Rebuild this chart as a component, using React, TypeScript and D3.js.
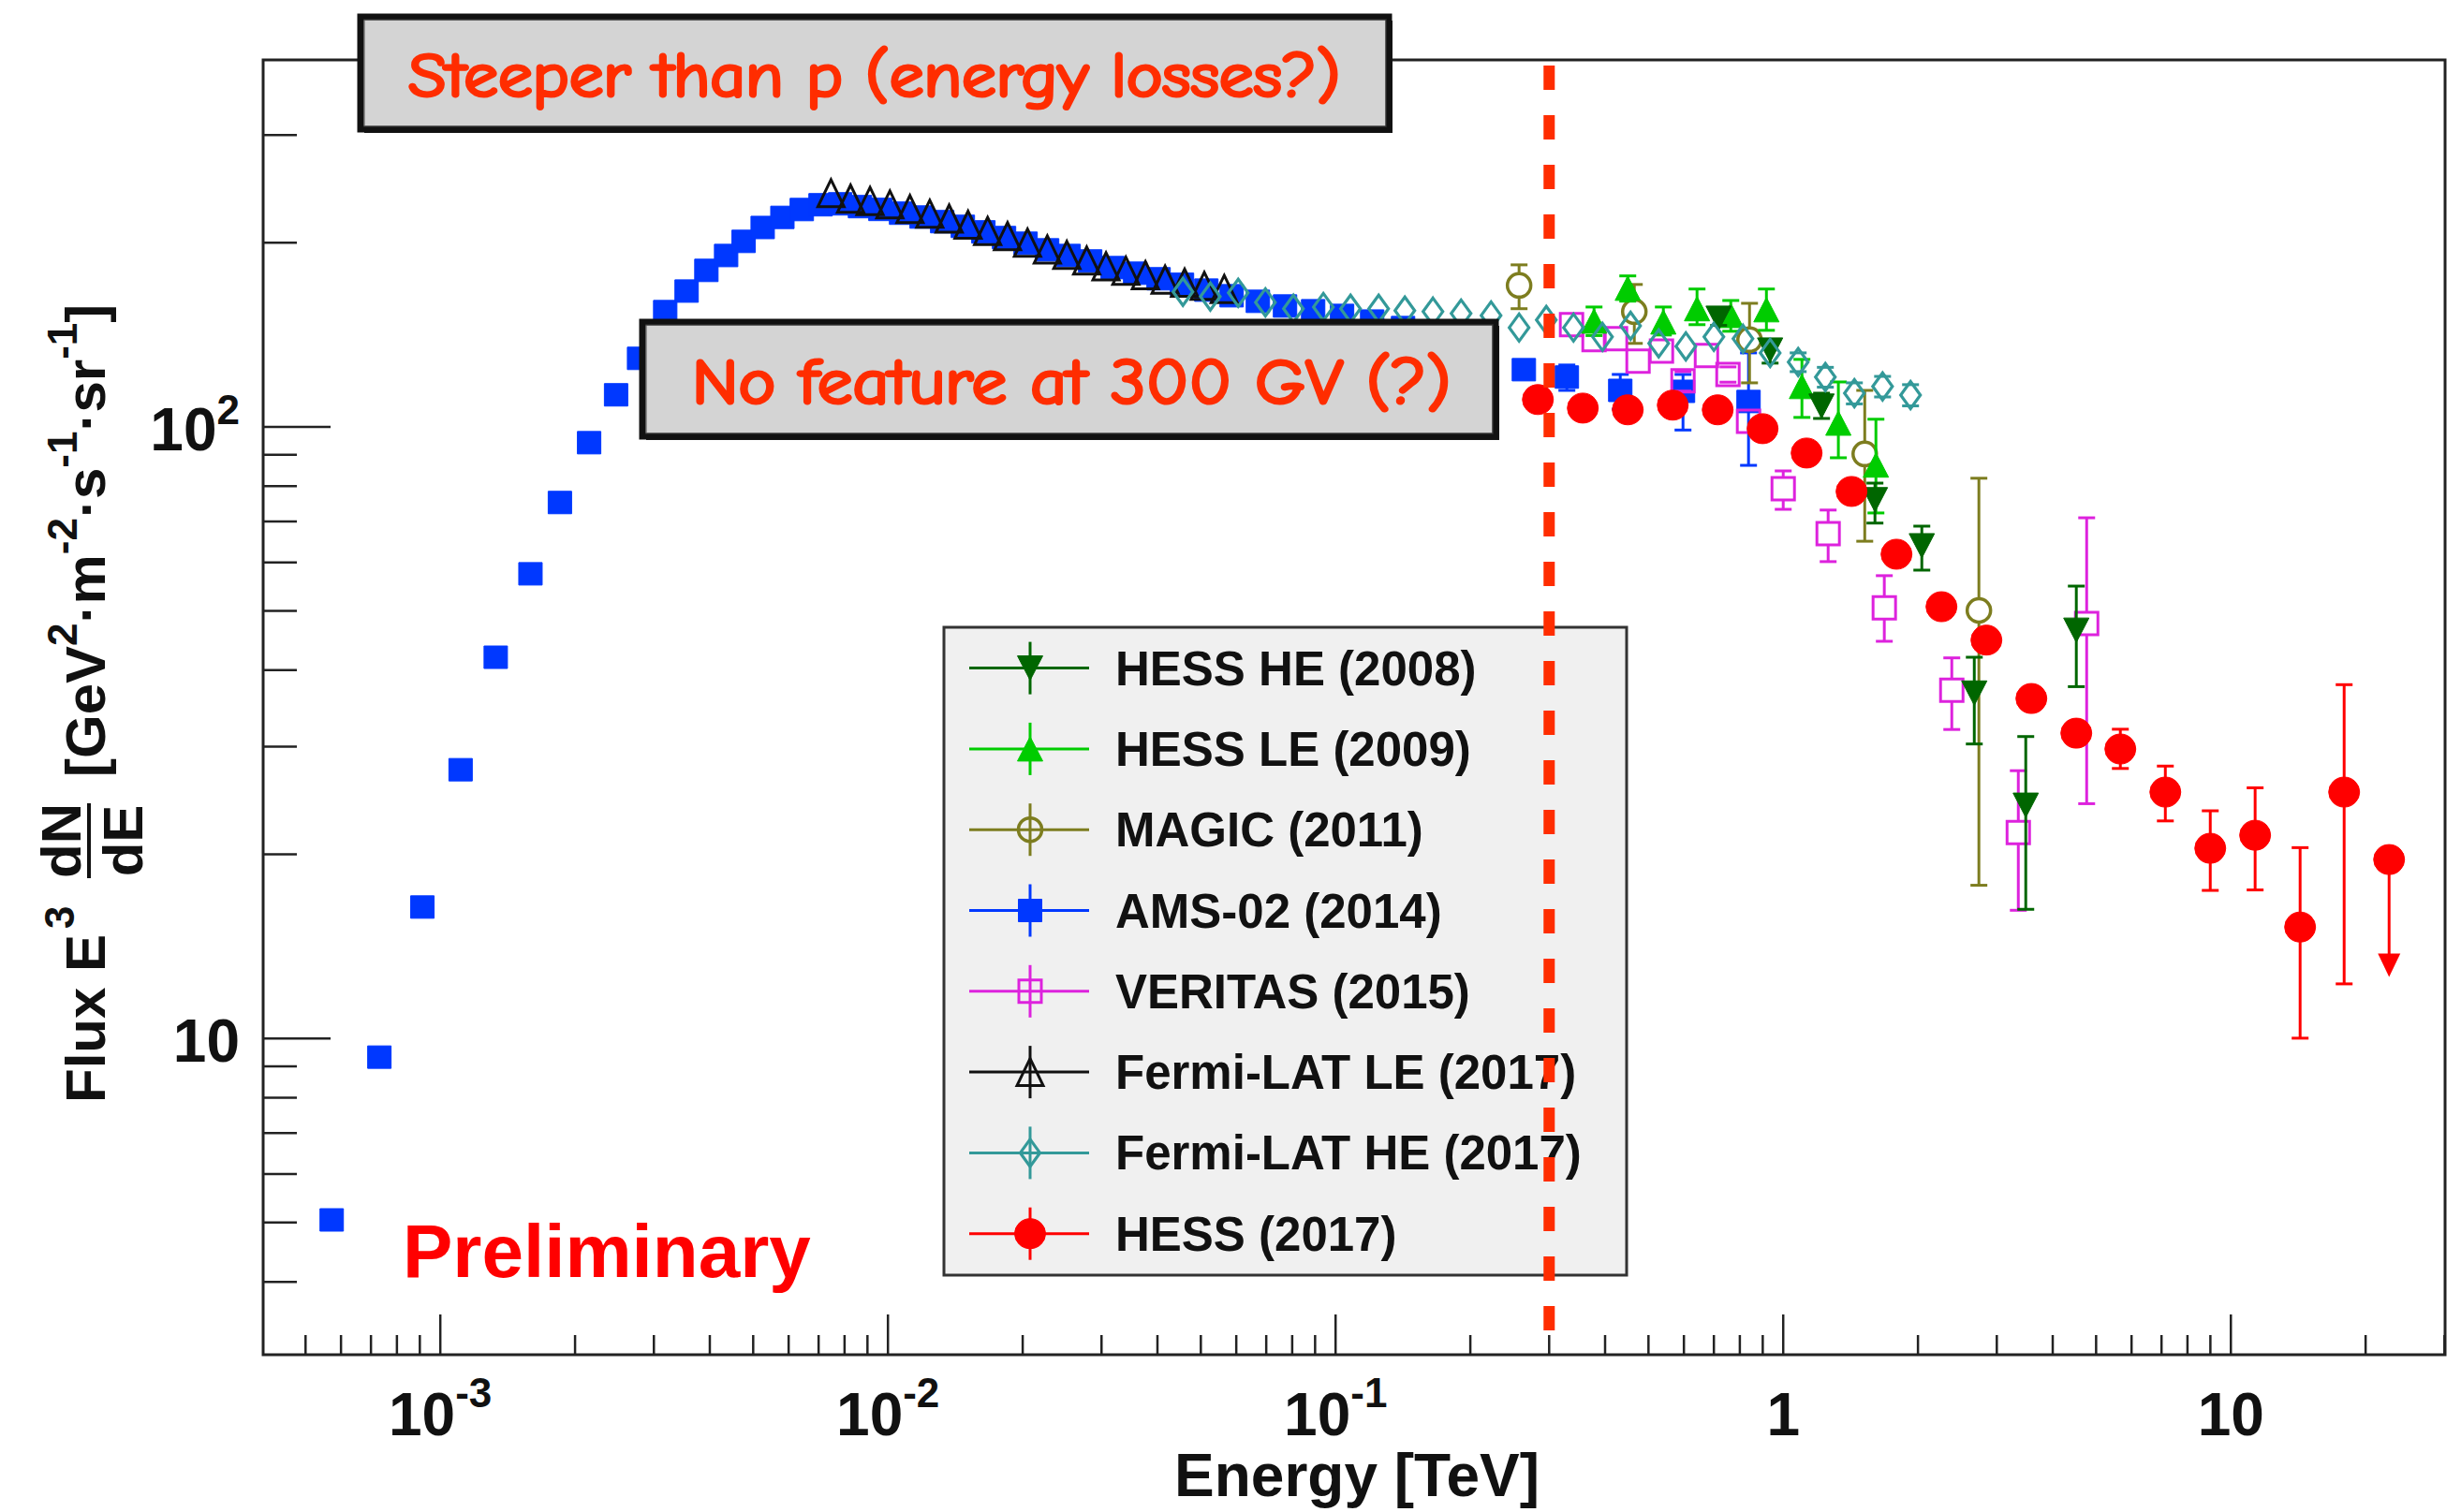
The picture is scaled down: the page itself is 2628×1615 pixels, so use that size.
import React from "react";
import * as d3 from "d3";

const WIDTH = 2628;
const HEIGHT = 1615;

// Axis ranges: energy in TeV, flux E^3 dN/dE in GeV^2 m^-2 s^-1 sr^-1
const energyRange = [4.02e-4, 30.1];
const fluxRange = [3.04, 398];

const xDecades = [1e-3, 1e-2, 1e-1, 1, 10];
const xDecadeBase = ["10", "10", "10", "1", "10"];
const xDecadeExp = ["-3", "-2", "-1", "", ""];
const yDecades = [10, 100];
const yDecadeBase = ["10", "10"];
const yDecadeExp = ["", "2"];

// AMS-02 (2014)
const amsEnergy = [
  5.72e-4, 7.31e-4, 9.12e-4, 1.11e-3, 1.33e-3, 1.59e-3, 1.85e-3, 2.15e-3, 2.47e-3, 2.78e-3,
  3.18e-3, 3.55e-3, 3.93e-3, 4.35e-3, 4.76e-3, 5.25e-3, 5.81e-3, 6.42e-3, 7.07e-3,
  7.82e-3, 8.66e-3, 9.62e-3, 1.07e-2, 1.189e-2, 1.322e-2, 1.47e-2, 1.634e-2, 1.817e-2, 2.03e-2,
  2.268e-2, 2.533e-2, 2.83e-2, 3.177e-2, 3.567e-2, 4.023e-2, 4.538e-2, 5.144e-2, 5.858e-2, 6.705e-2,
  7.71e-2, 8.91e-2, 0.1034, 0.1207, 0.1415, 0.1666, 0.1972, 0.2634, 0.3286, 0.4325, 0.5972, 0.8366,
];
const amsFlux = [
  5.05, 9.32, 16.4, 27.5, 42.0, 57.5, 75.2, 94.2, 112.8, 129.4,
  154.3, 166.7, 180.2, 190.6, 201, 211.8, 220, 226.6, 230.7,
  231.5, 229.1, 226.7, 223.5, 220.3, 216.5, 212.7, 208.3, 203.9, 199.6,
  194.7, 190.6, 186.7, 182.1, 178.3, 174.6, 171.0, 167.3, 163.8, 160.4,
  157.6, 154.8, 152.1, 148.9, 145.3, 141.7, 137.8, 124.0, 120.6, 114.7, 114.3, 110.0,
];
const amsErrLo = [
  0, 0, 0, 0, 0, 0, 0, 0, 0, 0,
  0, 0, 0, 0, 0, 0, 0, 0, 0,
  0, 0, 0, 0, 0, 0, 0, 0, 0, 0,
  0, 0, 0, 0, 0, 0, 0, 0, 0, 0,
  0, 0, 0, 0, 0, 0, 0, 0, 5.9, 7.8, 15.5, 23.5,
];
const amsErrHi = [
  0, 0, 0, 0, 0, 0, 0, 0, 0, 0,
  0, 0, 0, 0, 0, 0, 0, 0, 0,
  0, 0, 0, 0, 0, 0, 0, 0, 0, 0,
  0, 0, 0, 0, 0, 0, 0, 0, 0, 0,
  0, 0, 0, 0, 0, 0, 0, 0, 5.6, 7.1, 7.5, 22.1,
];

// Fermi-LAT LE (2017)
const fermiLeEnergy = [
  0.00746, 0.00825, 0.00912, 0.0101, 0.0112, 0.0124, 0.0137, 0.0151, 0.0167, 0.0185, 0.0205,
  0.0227, 0.0251, 0.0278, 0.0307, 0.034, 0.0376, 0.0416, 0.046, 0.0509, 0.0564,
];
const fermiLeFlux = [
  241, 236, 234, 231, 227, 223, 219, 214, 209, 205, 200,
  195, 191, 187, 183, 180, 177, 174, 172, 170, 168,
];
const fermiLeErrLo = [0, 0, 0, 0, 0, 0, 0, 0, 0, 0, 0, 0, 0, 0, 0, 0, 0, 0, 0, 0, 0];
const fermiLeErrHi = [0, 0, 0, 0, 0, 0, 0, 0, 0, 0, 0, 0, 0, 0, 0, 0, 0, 0, 0, 0, 0];

// Fermi-LAT HE (2017)
const fermiHeEnergy = [
  0.0456, 0.0525, 0.0606, 0.0697, 0.0805, 0.0939, 0.108, 0.1248, 0.1428, 0.165,
  0.1907, 0.2225, 0.257, 0.2956, 0.34, 0.3947, 0.456, 0.527, 0.606, 0.7,
  0.813, 0.935, 1.08, 1.242, 1.442, 1.667, 1.925,
];
const fermiHeFlux = [
  166.2, 163.3, 165.6, 159.8, 156.0, 157.0, 156.0, 156.0, 154.9, 154.3,
  153.2, 152.1, 145.3, 149.5, 145.3, 140.3, 146.3, 136.9, 135.4, 140.3,
  139.3, 132.1, 127.6, 120.6, 113.5, 116.4, 112.7,
];
const fermiHeErrLo = [
  0, 0, 0, 0, 0, 0, 0, 0, 0, 0, 0, 0, 0, 0, 0, 0, 0, 0, 0, 0, 0, 0, 4.5, 4.5, 4.5, 4.5, 4.5,
];
const fermiHeErrHi = [
  0, 0, 0, 0, 0, 0, 0, 0, 0, 0, 0, 0, 0, 0, 0, 0, 0, 0, 0, 0, 0, 0, 4.5, 4.5, 4.5, 4.5, 4.5,
];

// HESS HE (2008)
const hessHeEnergy = [0.7173, 0.9348, 1.218, 1.603, 2.04, 2.672, 3.482, 4.516];
const hessHeFlux = [150.5, 133.5, 108.1, 76.0, 63.9, 36.7, 24.06, 46.5];
const hessHeErrLo = [4, 6.4, 4.9, 6.4, 5.6, 6.4, 7.8, 8.9];
const hessHeErrHi = [4, 5.3, 5.4, 4.9, 4.9, 5.3, 7.1, 8.4];

// HESS LE (2009)
const hessLeEnergy = [0.3779, 0.4495, 0.5398, 0.6419, 0.7636, 0.9172, 1.101, 1.328, 1.611];
const hessLeFlux = [148.9, 168.5, 148.4, 156.0, 152.1, 155.4, 116.4, 101.4, 86.6];
const hessLeErrLo = [7.9, 8, 7.1, 9.1, 8.8, 11.6, 12.8, 12.4, 14.3];
const hessLeErrHi = [8.1, 8, 8.6, 12, 8.8, 12.6, 12.5, 17, 16.3];

// MAGIC (2011)
const magicEnergy = [0.257, 0.4649, 0.8409, 1.521, 2.736];
const magicFlux = [170.3, 154.3, 138.8, 90.3, 50.1];
const magicErrLo = [14.3, 17.4, 20.8, 25.3, 32.3];
const magicErrHi = [13.7, 16.6, 20.4, 24.4, 32.3];

// VERITAS (2015)
const veritasEnergy = [
  0.3366, 0.3779, 0.4221, 0.4739, 0.5346, 0.5972, 0.6738, 0.7526, 0.8366, 1.0,
  1.26, 1.682, 2.38, 3.351, 4.763,
];
const veritasFlux = [
  146.9, 138.8, 139.3, 128.0, 133.0, 118.9, 130.8, 121.8, 102.1, 79.2,
  66.9, 50.6, 37.1, 21.7, 47.7,
];
const veritasErrLo = [0, 0, 0, 0, 0, 4.5, 0, 3.5, 0, 5.9, 6.7, 6.0, 5.1, 5.5, 23.5];
const veritasErrHi = [0, 0, 0, 0, 0, 4.2, 0, 3.5, 0, 5.5, 6.2, 6.5, 4.8, 5.7, 23.3];

// HESS (2017); the last point is an upper limit
const hessEnergy = [
  0.2831, 0.3567, 0.4495, 0.5665, 0.7139, 0.8994, 1.128, 1.421, 1.791, 2.257,
  2.844, 3.584, 4.516, 5.664, 7.139, 8.995, 11.33, 14.28, 17.91, 22.57,
];
const hessFlux = [
  110.8, 107.3, 106.6, 108.5, 106.6, 99.3, 90.6, 78.4, 61.9, 50.8,
  44.8, 35.96, 31.56, 29.73, 25.28, 20.46, 21.49, 15.21, 25.28, 19.61,
];
const hessErrLo = [
  3.3, 3.2, 3.2, 3.3, 3.2, 3.0, 2.7, 2.4, 1.9, 1.5,
  1.3, 1.1, 0.95, 2.1, 2.6, 3.0, 4.0, 5.2, 13.0, 7.0,
];
const hessErrHi = [
  3.3, 3.2, 3.2, 3.3, 3.2, 3.0, 2.7, 2.4, 1.9, 1.5,
  1.3, 1.1, 0.95, 2.3, 2.6, 3.1, 4.2, 5.3, 12.6, 0,
];
const hessUpperLimit = [
  false, false, false, false, false, false, false, false, false, false,
  false, false, false, false, false, false, false, false, false, true,
];

const seriesLabels = [
  "HESS HE (2008)",
  "HESS LE (2009)",
  "MAGIC (2011)",
  "AMS-02 (2014)",
  "VERITAS (2015)",
  "Fermi-LAT LE (2017)",
  "Fermi-LAT HE (2017)",
  "HESS (2017)",
];

const noLimits = (n) => new Array(n).fill(false);

const series = [
  { label: seriesLabels[0], energy: hessHeEnergy, flux: hessHeFlux, lo: hessHeErrLo, hi: hessHeErrHi, limit: noLimits(hessHeEnergy.length), color: "#006600", shape: "triDown", w: 27, h: 26, open: false, sw: 1 },
  { label: seriesLabels[1], energy: hessLeEnergy, flux: hessLeFlux, lo: hessLeErrLo, hi: hessLeErrHi, limit: noLimits(hessLeEnergy.length), color: "#00cc00", shape: "triUp", w: 27, h: 26, open: false, sw: 1 },
  { label: seriesLabels[2], energy: magicEnergy, flux: magicFlux, lo: magicErrLo, hi: magicErrHi, limit: noLimits(magicEnergy.length), color: "#7d7d1f", shape: "circle", w: 25, h: 25, open: true, sw: 3.5 },
  { label: seriesLabels[3], energy: amsEnergy, flux: amsFlux, lo: amsErrLo, hi: amsErrHi, limit: noLimits(amsEnergy.length), color: "#0038ff", shape: "square", w: 25, h: 24, open: false, sw: 1 },
  { label: seriesLabels[4], energy: veritasEnergy, flux: veritasFlux, lo: veritasErrLo, hi: veritasErrHi, limit: noLimits(veritasEnergy.length), color: "#dd22dd", shape: "square", w: 24, h: 24, open: true, sw: 3 },
  { label: seriesLabels[5], energy: fermiLeEnergy, flux: fermiLeFlux, lo: fermiLeErrLo, hi: fermiLeErrHi, limit: noLimits(fermiLeEnergy.length), color: "#111111", shape: "triUp", w: 28, h: 29, open: true, sw: 3 },
  { label: seriesLabels[6], energy: fermiHeEnergy, flux: fermiHeFlux, lo: fermiHeErrLo, hi: fermiHeErrHi, limit: noLimits(fermiHeEnergy.length), color: "#339999", shape: "diamond", w: 21, h: 29, open: true, sw: 3.2 },
  { label: seriesLabels[7], energy: hessEnergy, flux: hessFlux, lo: hessErrLo, hi: hessErrHi, limit: hessUpperLimit, color: "#ff0000", shape: "circle", w: 33, h: 32, open: false, sw: 1 },
];

// drawing order on the plot (back to front)
const drawOrder = [3, 2, 4, 1, 0, 5, 6, 7];

const FONT = "'Liberation Sans', Arial, Helvetica, sans-serif";
const HAND = "'Comic Sans MS', 'Comic Neue', 'DejaVu Sans', sans-serif";
const NOTE_RED = "#ff2d00";

function markerPath(shape, w, h) {
  switch (shape) {
    case "triUp":
      return `M0,${-h / 2}L${w / 2},${h / 2}L${-w / 2},${h / 2}Z`;
    case "triDown":
      return `M0,${h / 2}L${w / 2},${-h / 2}L${-w / 2},${-h / 2}Z`;
    case "diamond":
      return `M0,${-h / 2}L${w / 2},0L0,${h / 2}L${-w / 2},0Z`;
    case "square":
      return `M${-w / 2},${-h / 2}h${w}v${h}h${-w}Z`;
    default:
      return `M${-w / 2},0a${w / 2},${h / 2} 0 1,0 ${w},0a${w / 2},${h / 2} 0 1,0 ${-w},0Z`;
  }
}

function Marker({ s, cx, cy }) {
  return (
    <path
      d={markerPath(s.shape, s.w, s.h)}
      transform={`translate(${cx},${cy})`}
      fill={s.open ? "none" : s.color}
      stroke={s.color}
      strokeWidth={s.sw}
      strokeLinejoin="miter"
    />
  );
}

function ErrorBars({ s, x, y }) {
  const half = s.open ? s.h / 2 : 0;
  const cap = 9;
  return (
    <g stroke={s.color} strokeWidth={3} fill="none">
      {s.energy.map((e, i) => {
        const f = s.flux[i];
        const lo = s.lo[i];
        const hi = s.hi[i];
        if (!lo && !hi) return null;
        const cx = x(e);
        const cy = y(f);
        const parts = [];
        if (s.limit[i]) {
          const tip = y(f - lo);
          parts.push(<line key="l" x1={cx} x2={cx} y1={cy} y2={tip - 22} />);
          parts.push(
            <path key="a" d={`M${cx - 12},${tip - 25}L${cx + 12},${tip - 25}L${cx},${tip}Z`} fill={s.color} stroke="none" />
          );
          return <g key={i}>{parts}</g>;
        }
        if (hi) {
          const yt = y(f + hi);
          if (cy - yt > half) parts.push(<line key="u" x1={cx} x2={cx} y1={yt} y2={cy - half} />);
          parts.push(<line key="uc" x1={cx - cap} x2={cx + cap} y1={yt} y2={yt} />);
        }
        if (lo) {
          const yb = y(f - lo);
          if (yb - cy > half) parts.push(<line key="d" x1={cx} x2={cx} y1={cy + half} y2={yb} />);
          parts.push(<line key="dc" x1={cx - cap} x2={cx + cap} y1={yb} y2={yb} />);
        }
        return <g key={i}>{parts}</g>;
      })}
    </g>
  );
}

function NoteBox({ x0, y0, w, h, text, tx, ty, tl, fs }) {
  return (
    <g>
      <rect x={x0 + 4} y={y0 + 4} width={w} height={h} fill="#1a1a1a" />
      <rect x={x0} y={y0} width={w} height={h} fill="#d4d4d4" stroke="#111" strokeWidth={7} />
      <rect x={x0 + 4} y={y0 + 3} width={w - 7} height={h - 6} fill="none" stroke="#444" strokeWidth={1.5} opacity={0.6} />
      <text
        x={tx}
        y={ty}
        fontFamily={HAND}
        fontSize={fs}
        fill={NOTE_RED}
        stroke={NOTE_RED}
        strokeWidth={3.2}
        strokeLinejoin="round"
        textLength={tl}
        lengthAdjust="spacingAndGlyphs"
      >
        {text}
      </text>
    </g>
  );
}

export default function App() {
  const x = d3.scaleLog().domain(energyRange).range([281, 2611]);
  const y = d3.scaleLog().domain(fluxRange).range([1447, 64]);
  const [left, right] = x.range();
  const [bottom, top] = y.range();

  const xMinor = [];
  for (let p = -4; p <= 1; p++) {
    for (let k = 2; k <= 9; k++) {
      const v = k * Math.pow(10, p);
      if (v > energyRange[0] * 1.001 && v < energyRange[1] * 0.999) xMinor.push(v);
    }
  }
  const yMinor = [];
  for (let p = 0; p <= 2; p++) {
    for (let k = 2; k <= 9; k++) {
      const v = k * Math.pow(10, p);
      if (v > fluxRange[0] && v < fluxRange[1]) yMinor.push(v);
    }
  }

  const cutE = 0.3;
  const legendTop = 713.6;
  const legendStep = 86.3;

  return (
    <svg
      width={WIDTH}
      height={HEIGHT}
      viewBox={`0 0 ${WIDTH} ${HEIGHT}`}
      style={{ position: "absolute", left: 0, top: 0, background: "#fff" }}
    >
      <rect x={0} y={0} width={WIDTH} height={HEIGHT} fill="#fff" />

      {/* frame */}
      <rect x={left} y={top} width={right - left} height={bottom - top} fill="none" stroke="#222" strokeWidth={3} />

      {/* ticks */}
      <g stroke="#222" strokeWidth={2.5}>
        {xDecades.map((v) => (
          <line key={`xm${v}`} x1={x(v)} x2={x(v)} y1={bottom} y2={bottom - 43} />
        ))}
        {xMinor.map((v) => (
          <line key={`xn${v}`} x1={x(v)} x2={x(v)} y1={bottom} y2={bottom - 21} />
        ))}
        {yDecades.map((v) => (
          <line key={`ym${v}`} x1={left} x2={left + 72} y1={y(v)} y2={y(v)} />
        ))}
        {yMinor.map((v) => (
          <line key={`yn${v}`} x1={left} x2={left + 36} y1={y(v)} y2={y(v)} />
        ))}
      </g>

      {/* tick labels */}
      <g fontFamily={FONT} fontWeight="bold" fill="#111">
        {xDecades.map((v, i) => (
          <text key={`xl${v}`} x={x(v)} y={1533} fontSize={64} textAnchor="middle">
            {xDecadeBase[i]}
            {xDecadeExp[i] ? (
              <tspan fontSize={44} dy={-30}>
                {xDecadeExp[i]}
              </tspan>
            ) : null}
          </text>
        ))}
        {yDecades.map((v, i) => (
          <text key={`yl${v}`} x={256} y={y(v) + 25} fontSize={64} textAnchor="end">
            {yDecadeBase[i]}
            {yDecadeExp[i] ? (
              <tspan fontSize={44} dy={-28}>
                {yDecadeExp[i]}
              </tspan>
            ) : null}
          </text>
        ))}
      </g>

      {/* axis titles */}
      <text x={(left + right) / 2 + 3} y={1598} fontFamily={FONT} fontWeight="bold" fontSize={64} textAnchor="middle" fill="#111">
        Energy [TeV]
      </text>
      <g transform="translate(112,1178) rotate(-90)" fontFamily={FONT} fontWeight="bold" fill="#111">
        <text x={0} y={0} fontSize={60}>
          Flux E
          <tspan fontSize={44} dx={6} dy={-33}>
            3
          </tspan>
        </text>
        <text x={280} y={-26} fontSize={60} textAnchor="middle">
          dN
        </text>
        <line x1={240} x2={320} y1={-17} y2={-17} stroke="#111" strokeWidth={4} />
        <text x={280} y={40} fontSize={60} textAnchor="middle">
          dE
        </text>
        <text x={348} y={0} fontSize={60}>
          [GeV
          <tspan fontSize={44} dy={-30}>
            2
          </tspan>
          <tspan dy={30}>·m</tspan>
          <tspan fontSize={44} dy={-30}>
            -2
          </tspan>
          <tspan dy={30}>·s</tspan>
          <tspan fontSize={44} dy={-30}>
            -1
          </tspan>
          <tspan dy={30}>·sr</tspan>
          <tspan fontSize={44} dy={-30}>
            -1
          </tspan>
          <tspan dy={30}>]</tspan>
        </text>
      </g>

      {/* data */}
      {drawOrder.map((k) => {
        const s = series[k];
        return (
          <g key={s.label}>
            <ErrorBars s={s} x={x} y={y} />
            {s.energy.map((e, i) => (
              <Marker key={i} s={s} cx={x(e)} cy={y(s.flux[i])} />
            ))}
          </g>
        );
      })}

      {/* legend */}
      <rect x={1008} y={670} width={729} height={692} fill="#f0f0f0" stroke="#333" strokeWidth={3} />
      {series.map((s, i) => {
        const ry = legendTop + i * legendStep;
        return (
          <g key={`lg${s.label}`}>
            <line x1={1035} x2={1163} y1={ry} y2={ry} stroke={s.color} strokeWidth={3} />
            <line x1={1100} x2={1100} y1={ry - 28} y2={ry + 28} stroke={s.color} strokeWidth={3} />
            <Marker s={s} cx={1100} cy={ry} />
            <text x={1191} y={ry + 18} fontFamily={FONT} fontWeight="bold" fontSize={51} fill="#111">
              {s.label}
            </text>
          </g>
        );
      })}

      {/* 300 GeV marker line */}
      <line
        x1={x(cutE)}
        x2={x(cutE)}
        y1={top + 6}
        y2={bottom - 17}
        stroke={NOTE_RED}
        strokeWidth={12}
        strokeDasharray="26 27"
      />

      <text x={430} y={1364} fontFamily={FONT} fontWeight="bold" fontSize={80} fill="#ff0000">
        Preliminary
      </text>

      <NoteBox x0={385} y0={18} w={1098} h={120} text="Steeper than p (energy losses?)" tx={436} ty={103} tl={995} fs={66} />
      <NoteBox x0={686} y0={344} w={911} h={122} text="No feature at 300 GV (?)" tx={739} ty={431} tl={810} fs={68} />
    </svg>
  );
}
